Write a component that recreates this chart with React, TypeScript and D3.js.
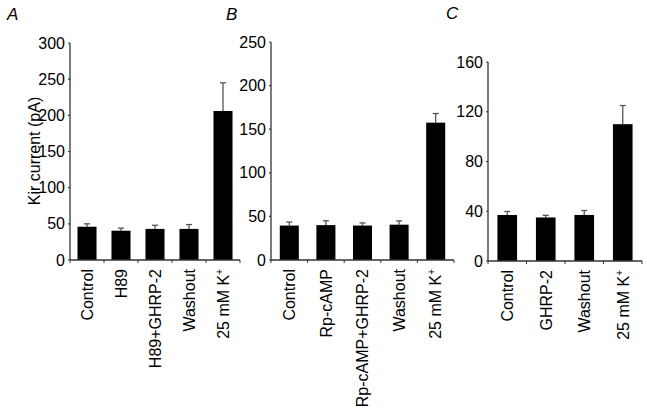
import React from "react";
import * as d3 from "d3";

const categoriesA = ["Control", "H89", "H89+GHRP-2", "Washout", "25 mM K"];
const valuesA = [46, 40.5, 43, 43, 206];
const errorsA = [4, 3.5, 5, 6, 39];
const ticksA = [0, 50, 100, 150, 200, 250, 300];

const categoriesB = ["Control", "Rp-cAMP", "Rp-cAMP+GHRP-2", "Washout", "25 mM K"];
const valuesB = [39.5, 40, 39.5, 40.5, 157.5];
const errorsB = [4, 5, 3, 4.3, 10.5];
const ticksB = [0, 50, 100, 150, 200, 250];

const categoriesC = ["Control", "GHRP-2", "Washout", "25 mM K"];
const valuesC = [37, 35, 37, 110];
const errorsC = [2.8, 1.7, 3.6, 15];
const ticksC = [0, 40, 80, 120, 160];

const yTitle = "Kir current (pA)";

const FONT = "'Liberation Sans', Arial, Helvetica, sans-serif";

type PanelProps = {
  label: string;
  labelX: number;
  labelY: number;
  x0: number;
  x1: number;
  y0: number;
  y1: number;
  max: number;
  pad: number;
  cats: string[];
  vals: number[];
  errs: number[];
  ticks: number[];
};

function Panel(p: PanelProps) {
  const x = d3
    .scaleBand<string>()
    .domain(p.cats)
    .range([p.x0, p.x1])
    .paddingInner(p.pad)
    .paddingOuter(p.pad / 2);
  const y = d3.scaleLinear().domain([0, p.max]).range([p.y0, p.y1]);
  const step = x.step();
  const bw = x.bandwidth();
  const axisColor = "#333";
  return (
    <g fontFamily={FONT}>
      <text x={p.labelX} y={p.labelY} fontSize={17} fontStyle="italic" fill="#000">
        {p.label}
      </text>
      {p.cats.map((c, i) => {
        const bx = x(c)!;
        const top = y(p.vals[i]);
        const et = y(p.vals[i] + p.errs[i]);
        const cx = bx + bw / 2;
        return (
          <g key={c}>
            <line x1={cx} x2={cx} y1={top} y2={et} stroke="#555" strokeWidth={1.3} />
            <line x1={cx - 3} x2={cx + 3} y1={et} y2={et} stroke="#555" strokeWidth={1.3} />
            <rect x={bx} y={top} width={bw} height={p.y0 - top} fill="#000" />
          </g>
        );
      })}
      <line x1={p.x0} x2={p.x0} y1={p.y0} y2={p.y1} stroke={axisColor} strokeWidth={1.3} />
      <line x1={p.x0} x2={p.x1} y1={p.y0} y2={p.y0} stroke={axisColor} strokeWidth={1.3} />
      {p.ticks.map((t) => (
        <g key={t}>
          <line x1={p.x0 - 2} x2={p.x0} y1={y(t)} y2={y(t)} stroke={axisColor} strokeWidth={1.2} />
          <text
            x={p.x0 - 5}
            y={y(t)}
            dy="0.35em"
            textAnchor="end"
            fontSize={16}
            fill="#000"
          >
            {t}
          </text>
        </g>
      ))}
      {d3.range(p.cats.length + 1).map((i) => (
        <line
          key={i}
          x1={p.x0 + i * step}
          x2={p.x0 + i * step}
          y1={p.y0}
          y2={p.y0 + 3}
          stroke={axisColor}
          strokeWidth={1}
        />
      ))}
      {p.cats.map((c) => {
        const cx = x(c)! + bw / 2;
        const isK = c === "25 mM K";
        return (
          <text
            key={c}
            transform="rotate(-90)"
            x={-(p.y0 + 9)}
            y={cx}
            dy="0.36em"
            textAnchor="end"
            fontSize={16}
            fill="#000"
          >
            {c}
            {isK ? (
              <tspan fontSize={10} dy={-6}>
                +
              </tspan>
            ) : null}
          </text>
        );
      })}
    </g>
  );
}

export default function App() {
  return (
    <svg
      width={647}
      height={420}
      style={{ position: "absolute", left: 0, top: 0, background: "#fff" }}
    >
      <rect width={647} height={420} fill="#fff" />
      <g transform="translate(40,151) rotate(-90)">
        <text
          x={0}
          y={0}
          textAnchor="middle"
          fontSize={16}
          fontFamily={FONT}
          fill="#000"
        >
          {yTitle}
        </text>
      </g>
      <Panel
        label="A"
        labelX={7}
        labelY={20}
        x0={70}
        x1={240}
        y0={260}
        y1={43}
        max={300}
        pad={0.44}
        cats={categoriesA}
        vals={valuesA}
        errs={errorsA}
        ticks={ticksA}
      />
      <Panel
        label="B"
        labelX={226}
        labelY={20}
        x0={271}
        x1={454}
        y0={260}
        y1={42}
        max={250}
        pad={0.48}
        cats={categoriesB}
        vals={valuesB}
        errs={errorsB}
        ticks={ticksB}
      />
      <Panel
        label="C"
        labelX={446}
        labelY={19}
        x0={488}
        x1={642}
        y0={261}
        y1={62}
        max={160}
        pad={0.49}
        cats={categoriesC}
        vals={valuesC}
        errs={errorsC}
        ticks={ticksC}
      />
    </svg>
  );
}
